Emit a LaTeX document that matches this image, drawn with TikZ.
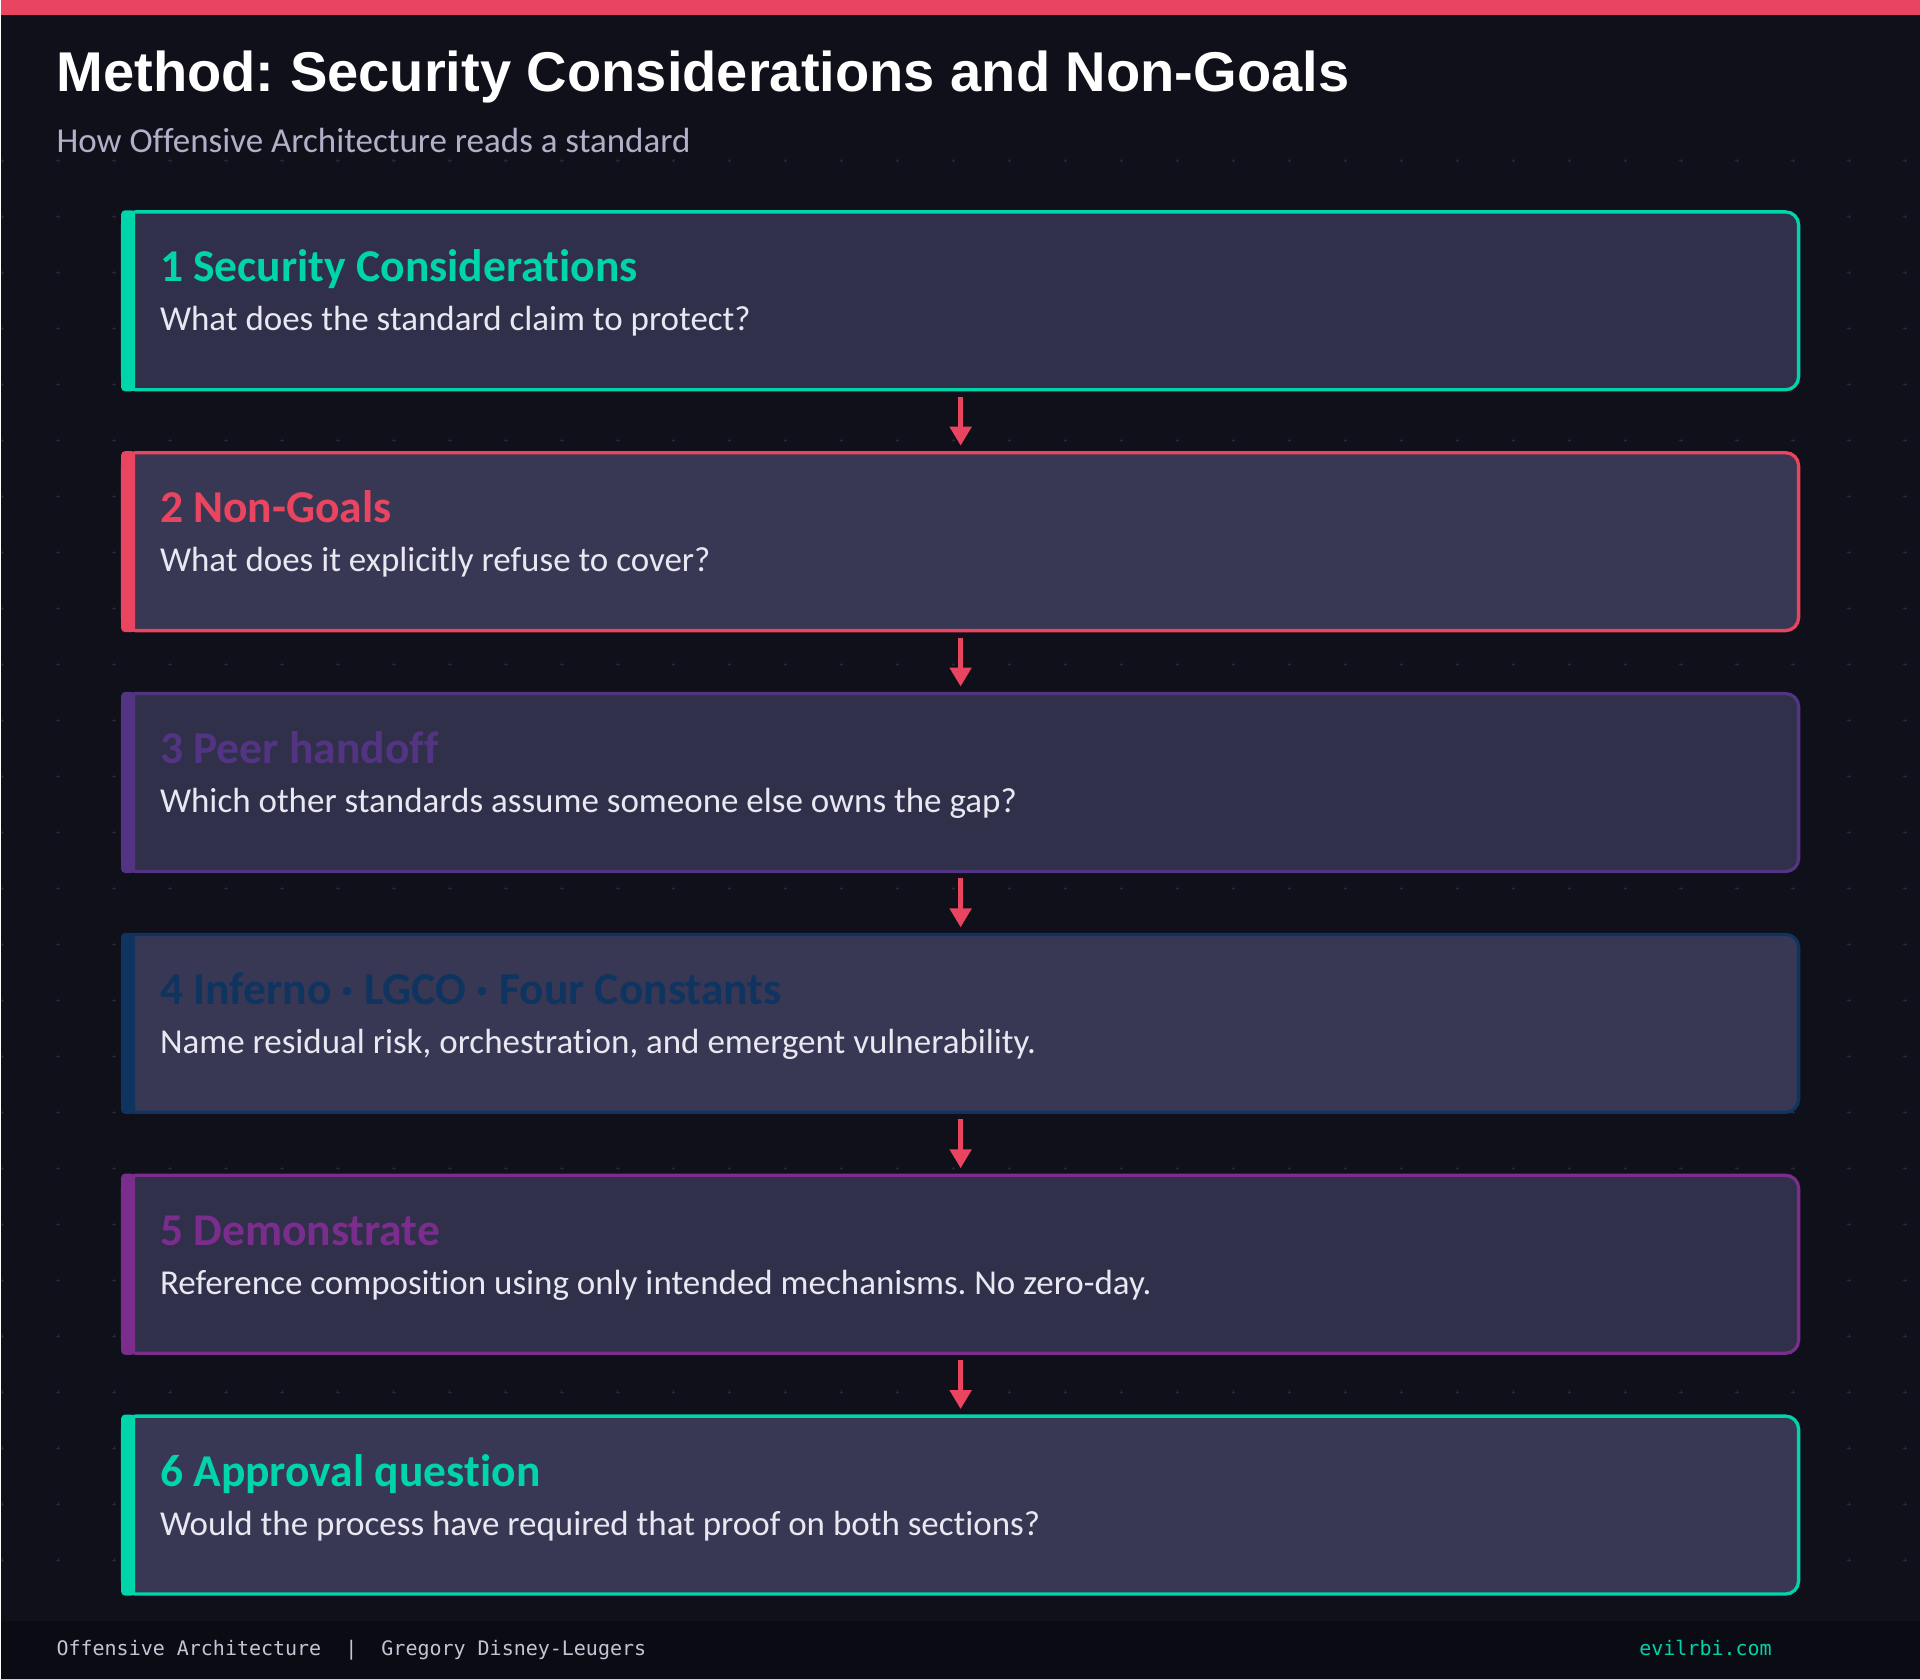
\documentclass[tikz,border=0pt]{standalone}
\usepackage{fontspec}
\setmainfont{Carlito}[Ligatures=NoCommon]
\newfontfamily\titlefont{Liberation Sans}
\newfontfamily\footfont{DejaVu Sans Mono}
\usetikzlibrary{positioning,arrows.meta}
\frenchspacing

\definecolor{bgdark}{HTML}{10101B}
\definecolor{footbg}{HTML}{0B0B14}
\definecolor{gridcol}{HTML}{272739}
\definecolor{cardodd}{HTML}{30304A}
\definecolor{cardeven}{HTML}{383854}
\definecolor{acteal}{HTML}{00D4AA}
\definecolor{acred}{HTML}{E94560}
\definecolor{acpurple}{HTML}{533483}
\definecolor{acnavy}{HTML}{0F3460}
\definecolor{acviolet}{HTML}{7B2D8E}
\definecolor{subgray}{HTML}{B0B0C8}
\definecolor{bodywhite}{HTML}{E8E8F2}
\definecolor{footgray}{HTML}{C4C4D4}

\tikzset{
  stage/.style={draw=#1,line width=1.65pt,rounded corners=6.5pt,minimum width=838.5pt,minimum height=89pt,inner sep=0pt,outer sep=0pt},
  headtext/.style={anchor=base west,inner sep=0pt,font=\bfseries\fontsize{22.8}{27}\selectfont},
  bodytext/.style={anchor=base west,inner sep=0pt,text=bodywhite,font=\fontsize{17.5}{21}\selectfont},
  flow/.style={draw=acred,line width=2.5pt,-{Triangle[width=10.5pt,length=9.5pt]},shorten <=3.5pt,shorten >=3.5pt}
}

\begin{document}
\begin{tikzpicture}[x=0.5pt,y=-0.5pt]

% background, header bar, footer band
\fill[bgdark] (0,0) rectangle (1920,1680);
\fill[acred] (0,0) rectangle (1920,15);
\foreach \gx in {1,57,...,1905}
  \foreach \gy in {161,217,...,1561}
    \draw[gridcol,line width=0.5pt] (\gx-1.7,\gy) -- (\gx+1.7,\gy) (\gx,\gy-1.7) -- (\gx,\gy+1.7);
\fill[footbg] (0,1622) rectangle (1920,1680);

\node[anchor=base west,inner sep=0pt,text=white,font=\titlefont\bfseries\fontsize{28.05}{34}\selectfont] (title) at (55,92) {Method: Security Considerations and Non-Goals};
\node[anchor=base west,inner sep=0pt,text=subgray,font=\fontsize{17.5}{21}\selectfont] (subtitle) at (55,153) {How Offensive Architecture reads a standard};

% the six stages
\node[stage=acteal,fill=cardodd] (sec) at (960,301) {};
\node[stage=acred,fill=cardeven] (nongoal) at (960,542) {};
\node[stage=acpurple,fill=cardodd] (peer) at (960,783) {};
\node[stage=acnavy,fill=cardeven] (inferno) at (960,1024) {};
\node[stage=acviolet,fill=cardodd] (demo) at (960,1265) {};
\node[stage=acteal,fill=cardeven] (approval) at (960,1506) {};

\fill[acteal,rounded corners=2pt] ([xshift=-0.75pt,yshift=0.8pt]sec.north west) rectangle ([xshift=6.25pt,yshift=-0.8pt]sec.south west);
\fill[acred,rounded corners=2pt] ([xshift=-0.75pt,yshift=0.8pt]nongoal.north west) rectangle ([xshift=6.25pt,yshift=-0.8pt]nongoal.south west);
\fill[acpurple,rounded corners=2pt] ([xshift=-0.75pt,yshift=0.8pt]peer.north west) rectangle ([xshift=6.25pt,yshift=-0.8pt]peer.south west);
\fill[acnavy,rounded corners=2pt] ([xshift=-0.75pt,yshift=0.8pt]inferno.north west) rectangle ([xshift=6.25pt,yshift=-0.8pt]inferno.south west);
\fill[acviolet,rounded corners=2pt] ([xshift=-0.75pt,yshift=0.8pt]demo.north west) rectangle ([xshift=6.25pt,yshift=-0.8pt]demo.south west);
\fill[acteal,rounded corners=2pt] ([xshift=-0.75pt,yshift=0.8pt]approval.north west) rectangle ([xshift=6.25pt,yshift=-0.8pt]approval.south west);

\node[headtext,text=acteal] (sechead) at (158.5,282) {1 Security Considerations};
\node[bodytext] (secbody) at (158.5,331) {What does the standard claim to protect?};
\node[headtext,text=acred] (nongoalhead) at (158.5,523) {2 Non-Goals};
\node[bodytext] (nongoalbody) at (158.5,572) {What does it explicitly refuse to cover?};
\node[headtext,text=acpurple] (peerhead) at (158.5,764) {3 Peer handoff};
\node[bodytext] (peerbody) at (158.5,813) {Which other standards assume someone else owns the gap?};
\node[headtext,text=acnavy] (infernohead) at (158.5,1005) {4 Inferno · LGCO · Four Constants};
\node[bodytext] (infernobody) at (158.5,1054) {Name residual risk, orchestration, and emergent vulnerability.};
\node[headtext,text=acviolet] (demohead) at (158.5,1246) {5 Demonstrate};
\node[bodytext] (demobody) at (158.5,1295) {Reference composition using only intended mechanisms. No zero-day.};
\node[headtext,text=acteal] (approvalhead) at (158.5,1487) {6 Approval question};
\node[bodytext] (approvalbody) at (158.5,1536) {Would the process have required that proof on both sections?};

\draw[flow] (sec) -- (nongoal);
\draw[flow] (nongoal) -- (peer);
\draw[flow] (peer) -- (inferno);
\draw[flow] (inferno) -- (demo);
\draw[flow] (demo) -- (approval);

% footer
\node[anchor=base west,inner sep=0pt,text=footgray,font=\footfont\fontsize{10}{12}\selectfont] (byline) at (55,1657) {Offensive Architecture\ \ |\ \ Gregory Disney-Leugers};
\node[anchor=base east,inner sep=0pt,text=acteal,font=\footfont\fontsize{10}{12}\selectfont] (site) at (1772,1657) {evilrbi.com};

\end{tikzpicture}
\end{document}
